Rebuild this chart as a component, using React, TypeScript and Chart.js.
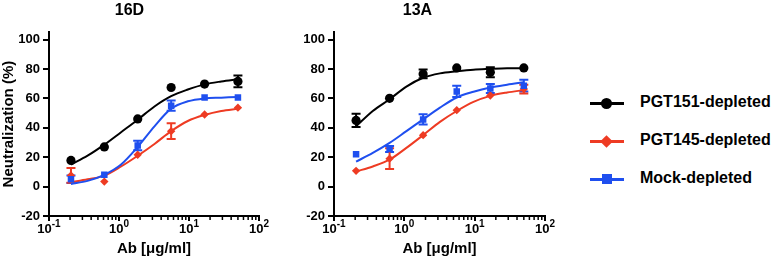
import React, { useEffect, useRef } from "react";
import { Chart, registerables } from "chart.js";

Chart.register(...registerables);

const FONT = "'Liberation Sans', Arial, Helvetica, sans-serif";

// Antibody concentrations (µg/ml)
const doses = [0.206, 0.617, 1.85, 5.56, 16.7, 50];
const curveDoses = [0.206, 0.356, 0.617, 1.07, 1.85, 3.21, 5.56, 9.62, 16.7, 28.9, 50];

const seriesNames = ["PGT151-depleted", "PGT145-depleted", "Mock-depleted"];
const seriesColors = ["#000000", "#EE3B23", "#1F4FEF"];
const pointStyles = ["circle", "rectRot", "rect"];
const pointRadii = [4.6, 4.2, 4.6];

const xMajorTicks = [0.1, 1, 10, 100];
const yTicks = [-20, 0, 20, 40, 60, 80, 100];

// ---- 16D ----
const d16Pgt151 = [17.8, 27, 46, 67.4, 69.7, 71.5];
const d16Pgt151Err = [0, 0, 0, 0, 0, 4];
const d16Pgt145 = [7.6, 3.4, 21.7, 37.7, 49, 53.7];
const d16Pgt145Err = [5, 0, 0, 5.3, 0, 0];
const d16Mock = [5, 8, 28, 55, 60.6, 60.6];
const d16MockErr = [2.5, 0, 3.2, 3.5, 0, 0];
const d16Pgt151Fit = [15, 21, 28.5, 37, 45.5, 54.5, 61.5, 66, 69.5, 71.5, 73];
const d16Pgt145Fit = [3, 5, 7.5, 13.7, 21, 29, 37.7, 44.6, 48.7, 51.4, 53];
const d16MockFit = [1.8, 3.9, 8, 15, 27, 41, 53, 58, 60, 60.5, 61];

// ---- 13A ----
const a13Pgt151 = [45, 60, 76.6, 80.7, 77.7, 80.7];
const a13Pgt151Err = [4.5, 0, 3, 0, 3.4, 0];
const a13Pgt145 = [10.7, 19, 35, 52, 62, 66.3];
const a13Pgt145Err = [0, 7, 0, 0, 0, 3];
const a13Mock = [22, 25.6, 45.7, 64.7, 66.7, 68.6];
const a13MockErr = [0, 2, 3.5, 3.8, 3, 4];
const a13Pgt151Fit = [41, 51.4, 59.4, 68, 74, 77, 78.4, 79.5, 80, 80.4, 80.5];
const a13Pgt145Fit = [10.3, 13.7, 18.3, 26.3, 35, 44, 51.4, 57.6, 61.7, 64, 65.6];
const a13MockFit = [17, 22.9, 29.7, 37.7, 45.7, 53.7, 60.6, 64.5, 67.4, 69.3, 70.9];

const extrasPlugin = {
  id: "panelExtras",
  beforeDatasetsDraw(chart: any) {
    const ctx = chart.ctx;
    const xs = chart.scales.x;
    const ys = chart.scales.y;
    chart.data.datasets.forEach((ds: any) => {
      if (!ds.errors) return;
      ctx.save();
      ctx.strokeStyle = ds.borderColor;
      ctx.lineWidth = 2;
      ds.data.forEach((p: any, i: number) => {
        const e = ds.errors[i];
        if (!e) return;
        const px = xs.getPixelForValue(p.x);
        const top = ys.getPixelForValue(p.y + e);
        const bot = ys.getPixelForValue(p.y - e);
        ctx.beginPath();
        ctx.moveTo(px, top);
        ctx.lineTo(px, bot);
        ctx.moveTo(px - 4.5, top);
        ctx.lineTo(px + 4.5, top);
        ctx.moveTo(px - 4.5, bot);
        ctx.lineTo(px + 4.5, bot);
        ctx.stroke();
      });
      ctx.restore();
    });
  },
  afterDraw(chart: any) {
    const ctx = chart.ctx;
    const xs = chart.scales.x;
    const base = chart.chartArea.bottom;
    ctx.save();
    ctx.strokeStyle = "#000";
    ctx.lineWidth = 1.5;
    // minor ticks of the log axis
    for (let k = 0; k < xMajorTicks.length - 1; k++) {
      for (let m = 2; m <= 9; m++) {
        const px = xs.getPixelForValue(xMajorTicks[k] * m);
        ctx.beginPath();
        ctx.moveTo(px, base);
        ctx.lineTo(px, base + 4);
        ctx.stroke();
      }
    }
    // major tick labels 10^n
    ctx.fillStyle = "#000";
    ctx.textBaseline = "alphabetic";
    ctx.textAlign = "left";
    xMajorTicks.forEach((v) => {
      const px = xs.getPixelForValue(v);
      const exp = String(Math.round(Math.log10(v)));
      ctx.font = `bold 13px ${FONT}`;
      const wb = ctx.measureText("10").width;
      ctx.font = `bold 10px ${FONT}`;
      const we = ctx.measureText(exp).width;
      const start = px - (wb + we) / 2;
      ctx.font = `bold 13px ${FONT}`;
      ctx.fillText("10", start, 233);
      ctx.font = `bold 10px ${FONT}`;
      ctx.fillText(exp, start + wb, 227);
    });
    ctx.restore();
  },
};

type PanelProps = {
  title: string;
  showYTitle: boolean;
  left: number;
  width: number;
  yScaleWidth: number;
  rightPad: number;
  points: number[][];
  errors: number[][];
  fits: number[][];
};

function Panel(props: PanelProps) {
  const ref = useRef<HTMLCanvasElement | null>(null);
  useEffect(() => {
    if (!ref.current) return;
    const datasets: any[] = [];
    // points (lower order = drawn on top)
    [2, 1, 0].forEach((i, k) => {
      datasets.push({
        type: "scatter",
        label: seriesNames[i],
        data: doses.map((x, j) => ({ x, y: props.points[i][j] })),
        errors: props.errors[i],
        borderColor: seriesColors[i],
        backgroundColor: seriesColors[i],
        pointStyle: pointStyles[i],
        pointRadius: pointRadii[i],
        pointBorderWidth: 0,
        showLine: false,
        order: k,
      });
    });
    [2, 1, 0].forEach((i, k) => {
      datasets.push({
        type: "line",
        label: seriesNames[i] + " fit",
        data: curveDoses.map((x, j) => ({ x, y: props.fits[i][j] })),
        borderColor: seriesColors[i],
        backgroundColor: seriesColors[i],
        borderWidth: 2,
        pointRadius: 0,
        fill: false,
        cubicInterpolationMode: "monotone",
        order: 3 + k,
      });
    });
    const titleFont = { family: FONT, size: 15, weight: "bold" as const };
    const chart = new Chart(ref.current, {
      type: "scatter",
      data: { datasets },
      plugins: [extrasPlugin],
      options: {
        responsive: false,
        animation: false,
        devicePixelRatio: 1,
        layout: { padding: { left: 0, right: props.rightPad, top: 0, bottom: 0 } },
        plugins: {
          legend: { display: false },
          tooltip: { enabled: false },
          title: {
            display: true,
            text: props.title,
            color: "#000",
            font: { family: FONT, size: 16, weight: "bold" },
            padding: { top: 1, bottom: 12 },
          },
        },
        scales: {
          x: {
            type: "logarithmic",
            position: "bottom",
            min: 0.1,
            max: 100,
            afterBuildTicks: (s: any) => {
              s.ticks = xMajorTicks.map((v) => ({ value: v, major: true }));
            },
            afterFit: (s: any) => {
              s.height = 43;
            },
            ticks: { display: false },
            grid: {
              display: true,
              drawOnChartArea: false,
              drawTicks: true,
              tickLength: 5,
              color: "#000",
              lineWidth: 2,
            },
            border: { display: true, color: "#000", width: 2 },
            title: {
              display: true,
              text: "Ab [μg/ml]",
              color: "#000",
              font: titleFont,
              padding: { top: 0, bottom: 1 },
            },
          },
          y: {
            type: "linear",
            min: -20,
            max: 105,
            afterBuildTicks: (s: any) => {
              s.ticks = yTicks.map((v) => ({ value: v }));
            },
            afterFit: (s: any) => {
              s.width = props.yScaleWidth;
            },
            ticks: {
              color: "#000",
              padding: 3,
              font: { family: FONT, size: 13, weight: "bold" },
            },
            grid: {
              display: true,
              drawOnChartArea: false,
              drawTicks: true,
              tickLength: 6,
              color: "#000",
              lineWidth: 2,
            },
            border: { display: true, color: "#000", width: 2 },
            title: {
              display: props.showYTitle,
              text: "Neutralization (%)",
              color: "#000",
              font: titleFont,
              padding: { top: 0, bottom: 0 },
            },
          },
        },
      } as any,
    });
    return () => chart.destroy();
  }, []);
  return (
    <canvas
      ref={ref}
      width={props.width}
      height={259}
      style={{ position: "absolute", left: props.left, top: 0, width: props.width, height: 259 }}
    />
  );
}

function LegendMarker({ i }: { i: number }) {
  const c = seriesColors[i];
  let marker: React.ReactNode;
  if (i === 0) {
    marker = <div style={{ position: "absolute", left: 11, top: -5, width: 11, height: 11, borderRadius: "50%", background: c }} />;
  } else if (i === 1) {
    marker = <div style={{ position: "absolute", left: 12, top: -4.5, width: 9, height: 9, background: c, transform: "rotate(45deg)" }} />;
  } else {
    marker = <div style={{ position: "absolute", left: 11.5, top: -5, width: 10, height: 10, background: c }} />;
  }
  return (
    <div style={{ position: "absolute", left: 0, top: 0, width: 34, height: 0 }}>
      <div style={{ position: "absolute", left: 0, top: -1.5, width: 34, height: 3, background: c }} />
      {marker}
    </div>
  );
}

function Legend() {
  const rows = [103, 141, 179];
  return (
    <div style={{ position: "absolute", left: 0, top: 0 }}>
      {seriesNames.map((name, i) => (
        <div key={name} style={{ position: "absolute", left: 590, top: rows[i] }}>
          <LegendMarker i={i} />
          <div
            style={{
              position: "absolute",
              left: 50,
              top: -10,
              height: 20,
              lineHeight: "20px",
              whiteSpace: "nowrap",
              font: `bold 16px ${FONT}`,
              color: "#000",
            }}
          >
            {name}
          </div>
        </div>
      ))}
    </div>
  );
}

export default function App() {
  return (
    <div style={{ position: "absolute", left: 0, top: 0, width: 784, height: 259, background: "#fff", overflow: "hidden" }}>
      <Panel
        title="16D"
        showYTitle={true}
        left={0}
        width={274}
        yScaleWidth={49}
        rightPad={15}
        points={[d16Pgt151, d16Pgt145, d16Mock]}
        errors={[d16Pgt151Err, d16Pgt145Err, d16MockErr]}
        fits={[d16Pgt151Fit, d16Pgt145Fit, d16MockFit]}
      />
      <Panel
        title="13A"
        showYTitle={false}
        left={290}
        width={276}
        yScaleWidth={44}
        rightPad={21}
        points={[a13Pgt151, a13Pgt145, a13Mock]}
        errors={[a13Pgt151Err, a13Pgt145Err, a13MockErr]}
        fits={[a13Pgt151Fit, a13Pgt145Fit, a13MockFit]}
      />
      <Legend />
    </div>
  );
}
